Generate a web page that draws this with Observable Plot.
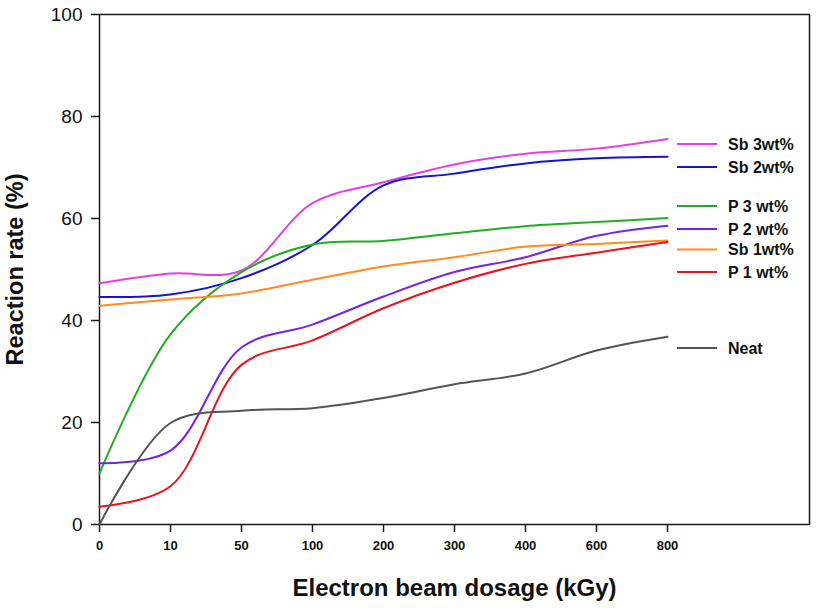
<!DOCTYPE html>
<html>
<head>
<meta charset="utf-8">
<script src="https://cdn.jsdelivr.net/npm/d3@7"></script>
<script src="https://cdn.jsdelivr.net/npm/@observablehq/plot@0.6"></script>
<style>
  html, body { margin: 0; padding: 0; background: #fff; }
  #chart svg { display: block; font-family: "Liberation Sans", Arial, sans-serif; }
</style>
</head>
<body>
<div id="chart"></div>
<script>
// ---- data ----
const dosage = ["0", "10", "50", "100", "200", "300", "400", "600", "800"];
const sb3  = [47.3, 49.2, 49.8, 63.0, 67.1, 70.6, 72.7, 73.7, 75.6];
const sb2  = [44.6, 45.1, 48.3, 54.8, 66.5, 68.8, 70.8, 71.8, 72.1];
const p3   = [10.0, 37.3, 49.5, 54.9, 55.6, 57.1, 58.5, 59.3, 60.1];
const p2   = [12.0, 14.5, 34.7, 39.2, 44.7, 49.5, 52.4, 56.6, 58.6];
const sb1  = [42.9, 44.1, 45.3, 48.0, 50.6, 52.4, 54.5, 55.0, 55.7];
const p1   = [3.5, 7.5, 31.3, 36.1, 42.4, 47.4, 51.1, 53.3, 55.4];
const neat = [0.0, 19.9, 22.3, 22.8, 24.8, 27.5, 29.6, 34.1, 36.8];
const seriesNames = ["Sb 3wt%", "Sb 2wt%", "P 3 wt%", "P 2 wt%", "Sb 1wt%", "P 1 wt%", "Neat"];
const seriesValues = [sb3, sb2, p3, p2, sb1, p1, neat];
const yTicks = [0, 20, 40, 60, 80, 100];

// ---- styles ----
const colors = ["#e63ee6", "#1414d2", "#22ac22", "#7424e6", "#ff8a1e", "#e8141e", "#555555"];
// legend row pixel offsets (layout only)
const legendRows = [144, 167, 206, 229, 249.5, 272, 348];

const rows = [];
seriesNames.forEach((name, s) => {
  seriesValues[s].forEach((v, i) => rows.push({series: name, i, v}));
});

const W = 817, H = 608;
const plot = Plot.plot({
  width: W,
  height: H,
  marginLeft: 99,
  marginRight: 8,
  marginTop: 14,
  marginBottom: 84,
  style: {fontFamily: "Liberation Sans, Arial, sans-serif", color: "#111", background: "#fff"},
  x: {domain: [0, 10], axis: null},
  y: {domain: [0, 100], axis: null},
  color: {domain: seriesNames, range: colors},
  marks: [
    Plot.frame({stroke: "#1a1a1a", strokeWidth: 1.5}),
    Plot.axisY({ticks: yTicks, tickSize: 8, tickPadding: 9, fontSize: 19, label: null, strokeWidth: 1.5, stroke: "#1a1a1a"}),
    Plot.axisX({ticks: d3.range(dosage.length), tickFormat: i => dosage[i], tickSize: 8, tickPadding: 8,
                fontSize: 13, fontWeight: "bold", label: null, strokeWidth: 1.5, stroke: "#1a1a1a"}),
    Plot.line(rows, {x: "i", y: "v", z: "series", stroke: "series", strokeWidth: 2, curve: "catmull-rom"}),
    Plot.text(["Electron beam dosage (kGy)"], {frameAnchor: "bottom", dy: 71, lineAnchor: "bottom",
              fontSize: 24, fontWeight: "bold", fill: "#111"}),
    Plot.text(["Reaction rate (%)"], {frameAnchor: "left", dx: -84, rotate: -90, lineAnchor: "middle",
              textAnchor: "middle", fontSize: 23.5, fontWeight: "bold", fill: "#111"})
  ]
});
document.getElementById("chart").appendChild(plot);

// legend inside the plot area
const svg = d3.select(plot);
const lg = svg.append("g").attr("text-anchor", "start");
seriesNames.forEach((name, s) => {
  const y = legendRows[s];
  lg.append("line").attr("x1", 677).attr("x2", 717).attr("y1", y).attr("y2", y)
    .attr("stroke", colors[s]).attr("stroke-width", 2);
  lg.append("text").attr("x", 728).attr("y", y).attr("dy", "0.35em")
    .attr("text-anchor", "start")
    .attr("font-size", 16).attr("font-weight", "bold").attr("fill", "#111")
    .attr("font-family", "Liberation Sans, Arial, sans-serif").text(name);
});
</script>
</body>
</html>
